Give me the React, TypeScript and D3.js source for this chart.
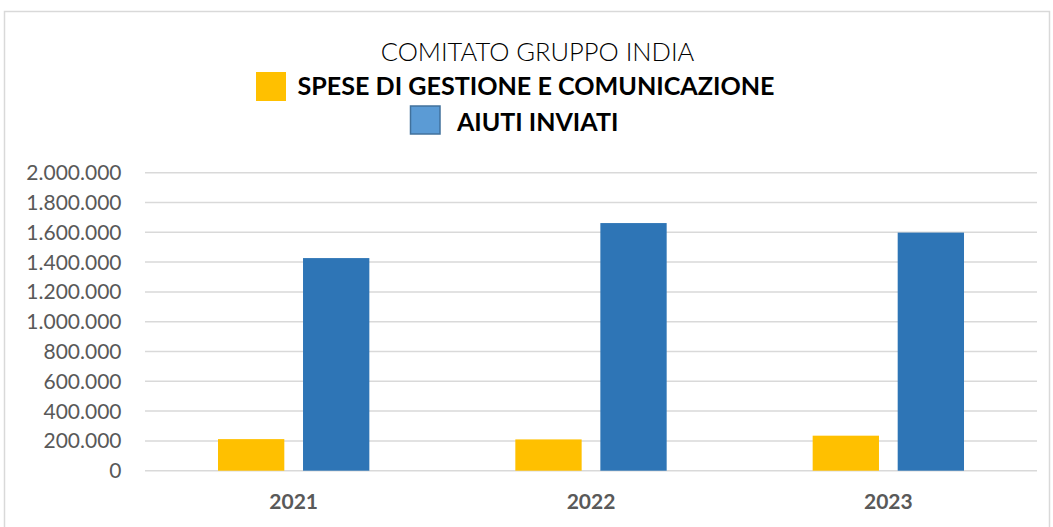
import React from "react";
import * as d3 from "d3";

const years = ["2021", "2022", "2023"];
const seriesNames = ["SPESE DI GESTIONE E COMUNICAZIONE", "AIUTI INVIATI"];
const spese = [212000, 210000, 235000];
const aiuti = [1427000, 1662000, 1598000];
const yTicks = [0, 200000, 400000, 600000, 800000, 1000000, 1200000, 1400000, 1600000, 1800000, 2000000];
const colors = ["#FFC000", "#2E75B6"];

const W = 1053;
const H = 527;
const FONT = "Lato, 'Open Sans', sans-serif";

export default function App() {
  const left = 145, right = 1037, top = 172.7, bottom = 470.7;
  const x0 = d3.scaleBand<string>().domain(years).range([left, right]).paddingInner(0.491).paddingOuter(0.2455);
  const x1 = d3.scaleBand<string>().domain(seriesNames).range([0, x0.bandwidth()]).paddingInner(0.22).paddingOuter(0);
  const y = d3.scaleLinear().domain([0, 2000000]).range([bottom, top]);
  const loc = d3.formatLocale({ decimal: ",", thousands: ".", grouping: [3], currency: ["€", ""] });
  const fmt = loc.format(",");
  const values = [spese, aiuti];

  return (
    <svg width={W} height={H} style={{ position: "absolute", left: 0, top: 0, background: "#fff" }}>
      <rect x={4.5} y={11.5} width={1045} height={530} fill="#fff" stroke="#D9D9D9" strokeWidth={1.5} />
      <text x={537.5} y={61} textAnchor="middle" fontFamily={FONT} fontWeight={300} fontSize={25.5} fill="#000">
        COMITATO GRUPPO INDIA
      </text>
      <rect x={256} y={72} width={30} height={29} fill={colors[0]} />
      <text x={297.5} y={95} fontFamily={FONT} fontWeight={700} fontSize={25} fill="#000"
        textLength={477} lengthAdjust="spacingAndGlyphs">
        {seriesNames[0]}
      </text>
      <rect x={410.5} y={106} width={29.5} height={28} fill="#5B9BD5" stroke="#41719C" strokeWidth={1.5} />
      <text x={457} y={131} fontFamily={FONT} fontWeight={700} fontSize={25} fill="#000">
        {seriesNames[1]}
      </text>
      {yTicks.map((t) => (
        <g key={t}>
          <line x1={left} x2={right} y1={y(t)} y2={y(t)} stroke="#D9D9D9" strokeWidth={1.5} />
          <text x={121.5} y={y(t)} dy="0.36em" textAnchor="end" fontFamily={FONT} fontSize={21} fill="#595959">
            {fmt(t)}
          </text>
        </g>
      ))}
      {years.map((yr, i) => (
        <g key={yr}>
          {seriesNames.map((s, j) => (
            <rect
              key={s}
              x={(x0(yr) as number) + (x1(s) as number)}
              y={y(values[j][i])}
              width={x1.bandwidth()}
              height={bottom - y(values[j][i])}
              fill={colors[j]}
            />
          ))}
          <text x={(x0(yr) as number) + x0.bandwidth() / 2} y={508.5} textAnchor="middle" fontFamily={FONT} fontWeight={700} fontSize={21} fill="#595959">
            {yr}
          </text>
        </g>
      ))}
    </svg>
  );
}
